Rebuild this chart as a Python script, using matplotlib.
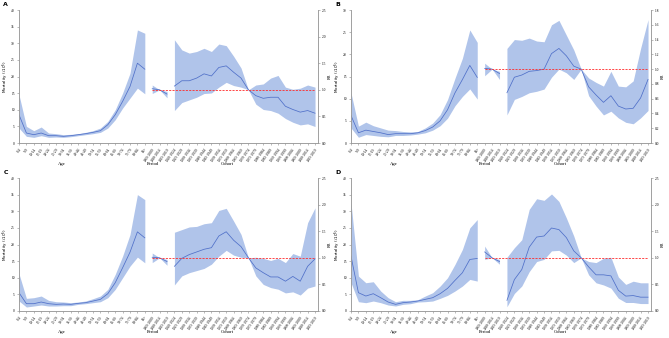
import matplotlib
matplotlib.use('Agg')
import matplotlib.pyplot as plt
import matplotlib.transforms as mtransforms

plt.rcParams['font.family'] = ['Liberation Serif', 'DejaVu Serif']

# Categories
age_labels = ['0-4', '5-9', '10-14', '15-19', '20-24', '25-29', '30-34', '35-39', '40-44',
              '45-49', '50-54', '55-59', '60-64', '65-69', '70-74', '75-79', '80-84', '85+']
period_labels = ['2005-2009', '2010-2014', '2015-2019']
cohort_labels = ['1920-1924', '1925-1929', '1930-1934', '1935-1939', '1940-1944', '1945-1949',
                 '1950-1954', '1955-1959', '1960-1964', '1965-1969', '1970-1974', '1975-1979',
                 '1980-1984', '1985-1989', '1990-1994', '1995-1999', '2000-2004', '2005-2009',
                 '2010-2014', '2015-2019']

# Panel A
a_age = [8.5, 3.0, 2.5, 3.0, 2.2, 2.2, 2.0, 2.2, 2.5, 2.8, 3.2, 3.7, 5.5, 8.5, 12.5, 17.0, 24.0, 22.2]
a_age_lo = [4.5, 2.0, 1.7, 2.2, 1.7, 1.8, 1.7, 1.9, 2.2, 2.5, 2.8, 3.2, 4.5, 7.0, 10.5, 13.5, 16.5, 14.8]
a_age_hi = [14.5, 5.0, 3.7, 4.8, 3.0, 2.8, 2.5, 2.6, 2.8, 3.2, 3.7, 4.5, 6.5, 10.0, 15.0, 21.0, 34.0, 33.0]
a_per = [1.02, 1.00, 0.92]
a_per_lo = [0.93, 1.00, 0.85]
a_per_hi = [1.09, 1.00, 0.97]
a_coh = [1.07, 1.17, 1.17, 1.22, 1.30, 1.26, 1.42, 1.45, 1.33, 1.22, 1.00, 0.89, 0.84, 0.86, 0.86,
         0.69, 0.63, 0.58, 0.61, 0.56]
a_coh_lo = [0.61, 0.76, 0.81, 0.86, 0.93, 0.94, 1.05, 1.14, 1.08, 1.05, 1.00, 0.73, 0.63, 0.61, 0.56,
            0.46, 0.39, 0.34, 0.36, 0.31]
a_coh_hi = [1.94, 1.75, 1.69, 1.72, 1.78, 1.72, 1.86, 1.83, 1.63, 1.41, 1.00, 1.09, 1.11, 1.22, 1.27,
            1.05, 1.01, 1.03, 1.09, 1.05]

# Panel B
b_age = [6.2, 2.3, 2.9, 2.6, 2.3, 1.9, 2.1, 2.1, 2.1, 2.3, 2.8, 3.6, 5.0, 7.5, 11.3, 14.3, 17.5, 14.8]
b_age_lo = [3.4, 1.3, 1.9, 1.7, 1.5, 1.4, 1.7, 1.7, 1.8, 2.0, 2.3, 2.9, 3.9, 5.6, 8.4, 10.5, 12.2, 9.9]
b_age_hi = [11.3, 3.8, 4.7, 3.9, 3.4, 2.9, 2.8, 2.6, 2.5, 2.6, 3.4, 4.5, 6.4, 9.8, 14.6, 19.1, 25.5, 22.7]
b_per = [1.01, 1.00, 0.94]
b_per_lo = [0.91, 1.00, 0.86]
b_per_hi = [1.08, 1.00, 0.97]
b_coh = [0.68, 0.89, 0.92, 0.97, 0.98, 1.00, 1.21, 1.28, 1.18, 1.04, 1.00, 0.76, 0.65, 0.55, 0.64,
         0.50, 0.46, 0.47, 0.61, 0.86]
b_coh_lo = [0.38, 0.59, 0.63, 0.68, 0.70, 0.73, 0.89, 1.00, 0.95, 0.86, 1.00, 0.64, 0.50, 0.38, 0.43,
            0.34, 0.28, 0.26, 0.34, 0.44]
b_coh_hi = [1.28, 1.40, 1.39, 1.42, 1.38, 1.37, 1.60, 1.66, 1.46, 1.26, 1.00, 0.88, 0.82, 0.77, 0.97,
            0.77, 0.76, 0.84, 1.28, 1.67]

# Panel C
c_age = [5.5, 2.2, 2.2, 2.7, 2.2, 2.0, 2.1, 2.0, 2.3, 2.5, 3.0, 3.5, 5.2, 8.5, 13.0, 17.7, 23.8, 22.0]
c_age_lo = [3.0, 1.2, 1.5, 1.8, 1.5, 1.5, 1.6, 1.6, 2.0, 2.2, 2.5, 2.8, 4.0, 6.5, 10.0, 13.5, 16.2, 14.5]
c_age_hi = [11.2, 3.8, 4.0, 4.5, 3.2, 2.8, 2.7, 2.5, 2.7, 3.0, 3.7, 4.5, 6.5, 11.0, 16.5, 23.0, 35.0, 33.5]
c_per = [1.01, 1.00, 0.93]
c_per_lo = [0.91, 1.00, 0.86]
c_per_hi = [1.09, 1.00, 0.97]
c_coh = [0.84, 0.99, 1.06, 1.11, 1.16, 1.19, 1.41, 1.49, 1.33, 1.21, 1.00, 0.81, 0.72, 0.64, 0.64,
         0.56, 0.65, 0.56, 0.84, 0.98]
c_coh_lo = [0.49, 0.66, 0.72, 0.76, 0.80, 0.88, 1.03, 1.14, 1.05, 1.01, 1.00, 0.66, 0.50, 0.44, 0.41,
            0.34, 0.36, 0.30, 0.43, 0.47]
c_coh_hi = [1.48, 1.53, 1.58, 1.59, 1.64, 1.66, 1.89, 1.93, 1.69, 1.44, 1.00, 1.01, 0.99, 0.95, 0.99,
            0.91, 1.08, 1.03, 1.66, 1.94]

# Panel D
d_age = [16.5, 5.5, 4.5, 5.2, 4.0, 2.7, 2.0, 2.5, 2.7, 3.0, 3.5, 4.0, 5.2, 6.8, 9.2, 11.5, 15.5, 15.8]
d_age_lo = [8.5, 2.8, 2.5, 3.0, 2.5, 1.8, 1.5, 2.0, 2.2, 2.7, 2.8, 3.0, 3.8, 4.7, 6.0, 7.5, 9.5, 9.0]
d_age_hi = [32.5, 10.5, 8.5, 8.8, 6.0, 4.0, 2.8, 3.2, 3.2, 3.4, 4.5, 5.5, 7.5, 10.0, 14.0, 18.5, 25.0, 27.5]
d_per = [1.11, 1.00, 0.93]
d_per_lo = [0.97, 1.00, 0.88]
d_per_hi = [1.22, 1.00, 0.97]
d_coh = [0.20, 0.59, 0.78, 1.20, 1.39, 1.41, 1.56, 1.53, 1.38, 1.13, 1.00, 0.83, 0.68, 0.68, 0.66,
         0.39, 0.28, 0.29, 0.26, 0.26]
d_coh_lo = [0.08, 0.33, 0.47, 0.74, 0.93, 0.97, 1.13, 1.14, 1.05, 0.91, 1.00, 0.68, 0.53, 0.49, 0.43,
            0.24, 0.16, 0.16, 0.14, 0.14]
d_coh_hi = [1.01, 1.19, 1.34, 1.91, 2.11, 2.08, 2.20, 2.06, 1.75, 1.41, 1.00, 0.93, 0.91, 0.99, 1.01,
            0.64, 0.50, 0.56, 0.53, 0.53]

FILL = '#b0c4ea'
LINE = '#4f6fc8'
TICK_FS = 2.6


def panel(rect, letter, age, age_lo, age_hi, per, per_lo, per_hi, coh, coh_lo, coh_hi,
          ymax, ystep, rrmax, rrstep):
    fig = plt.gcf()
    ax = fig.add_axes(rect)
    ax2 = ax.twinx()
    n_a, n_p = len(age_labels), len(period_labels)
    xa = list(range(n_a))
    xp = list(range(n_a, n_a + n_p))
    xc = list(range(n_a + n_p, n_a + n_p + len(cohort_labels)))

    ax.fill_between(xa, age_lo, age_hi, color=FILL, lw=0)
    ax.plot(xa, age, color=LINE, lw=0.55)
    ax2.fill_between(xp, per_lo, per_hi, color=FILL, lw=0)
    ax2.plot(xp, per, color=LINE, lw=0.55)
    ax2.fill_between(xc, coh_lo, coh_hi, color=FILL, lw=0)
    ax2.plot(xc, coh, color=LINE, lw=0.55)
    ax2.plot([xp[0], xc[-1]], [1, 1], color='#ff2a2a', lw=0.6, ls=(0, (2.5, 1.5)))

    ax.set_xlim(0, xc[-1] + 0.4)
    ax.set_ylim(0, ymax)
    ax2.set_ylim(0, rrmax)
    ax.set_yticks([i * ystep for i in range(int(round(ymax / ystep)) + 1)])
    ax2.set_yticks([round(i * rrstep, 2) for i in range(int(round(rrmax / rrstep)) + 1)])
    ax2.set_yticklabels(['%.1f' % t for t in ax2.get_yticks()])
    ax.set_xticks(xa + xp + xc)
    ax.set_xticklabels(age_labels + period_labels + cohort_labels, rotation=55,
                       ha='right', rotation_mode='anchor', fontsize=TICK_FS)
    for a in (ax, ax2):
        a.tick_params(labelsize=TICK_FS, length=1.5, width=0.4, color='#888888', pad=1.5)
        for s in a.spines.values():
            s.set_linewidth(0.5)
            s.set_color('#999999')
        a.spines['top'].set_visible(False)
    ax.set_ylabel('Mortality (/10$^5$)', fontsize=3.0, family='DejaVu Sans')
    ax.yaxis.set_label_coords(-0.028, 0.5)
    ax2.set_ylabel('RR', fontsize=3.0)
    ax2.yaxis.set_label_coords(1.034, 0.5)

    trans = mtransforms.blended_transform_factory(ax.transData, ax.transAxes)
    for xpos, name in [(5.8, 'Age'), (18.1, 'Period'), (28.2, 'Cohort')]:
        ax.text(xpos, -0.158, name, transform=trans, ha='center', va='center', fontsize=3.4)
    ax.text(-0.045, 1.04, letter, transform=ax.transAxes, fontsize=4.5, fontweight='bold',
            ha='center', va='center', family='DejaVu Sans')


W, H = 669, 338
fig = plt.figure(figsize=(W / 100, H / 100), dpi=100)


def rect(left, right, top, bottom):
    return [left / W, (H - bottom) / H, (right - left) / W, (bottom - top) / H]


panel(rect(19, 318, 10, 143), 'A', a_age, a_age_lo, a_age_hi, a_per, a_per_lo, a_per_hi,
      a_coh, a_coh_lo, a_coh_hi, 40, 5, 2.5, 0.5)
panel(rect(351, 651, 10, 143), 'B', b_age, b_age_lo, b_age_hi, b_per, b_per_lo, b_per_hi,
      b_coh, b_coh_lo, b_coh_hi, 30, 5, 1.8, 0.2)
panel(rect(19, 318, 178, 311), 'C', c_age, c_age_lo, c_age_hi, c_per, c_per_lo, c_per_hi,
      c_coh, c_coh_lo, c_coh_hi, 40, 5, 2.5, 0.5)
panel(rect(351, 651, 178, 311), 'D', d_age, d_age_lo, d_age_hi, d_per, d_per_lo, d_per_hi,
      d_coh, d_coh_lo, d_coh_hi, 40, 5, 2.5, 0.5)

fig.savefig('out.png', dpi=100)
plt.close(fig)
